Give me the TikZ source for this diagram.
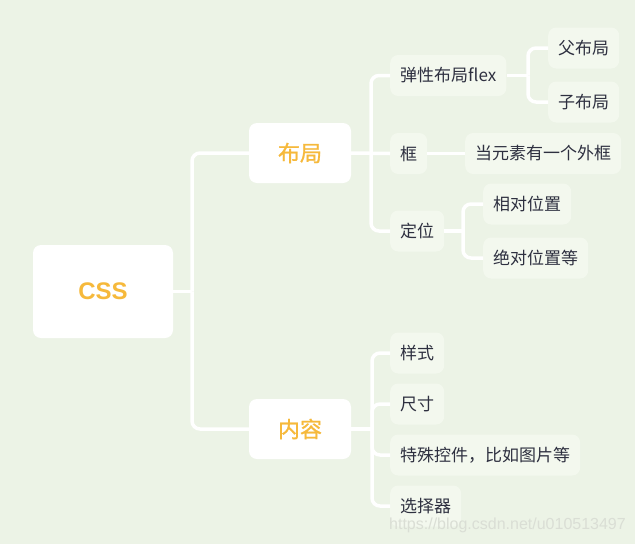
\documentclass[tikz,border=0pt]{standalone}
\usepackage{fontspec}
\setmainfont{Noto Sans CJK SC}
\newfontfamily\medfont[FakeBold=1.2]{Noto Sans CJK SC}
\newfontfamily\cssfont{Liberation Sans}
\newfontfamily\wmfont{Liberation Sans}
\definecolor{bg}{HTML}{ECF3E6}
\definecolor{leaffill}{HTML}{F3F8EE}
\definecolor{orangetxt}{HTML}{F6B93B}
\definecolor{darktxt}{HTML}{2E3040}
\definecolor{wmcol}{HTML}{DADED5}
\begin{document}
\begin{tikzpicture}[x=1pt,y=-1pt,
  mainbox/.style={draw=none,fill=white,rounded corners=8pt,inner sep=0pt,
    text=orangetxt,font=\medfont\fontsize{22}{24}\selectfont},
  leaf/.style={draw=none,fill=leaffill,rounded corners=8pt,inner xsep=10pt,inner ysep=0pt,
    minimum height=41pt,text=darktxt,font=\fontsize{17}{19}\selectfont,anchor=west},
  conn/.style={draw=white,line width=3.5pt,rounded corners=8pt}]
\fill[bg] (0,0) rectangle (635,544);
\useasboundingbox (0,0) rectangle (635,544);
% main nodes
\node[mainbox,minimum width=140pt,minimum height=93pt,font=\cssfont\bfseries\fontsize{24}{26}\selectfont] (css) at (103,291.5) {CSS};
\node[mainbox,minimum width=102pt,minimum height=60pt] (buju) at (300,153) {布局};
\node[mainbox,minimum width=102pt,minimum height=60pt] (neirong) at (300,429) {内容};
% layout children
\node[leaf] (flex) at (390,75.5) {弹性布局flex};
\node[leaf] (kuang) at (390,153.5) {框};
\node[leaf] (dingwei) at (390,231) {定位};
\node[leaf] (fu) at (548,48) {父布局};
\node[leaf] (zi) at (548,102) {子布局};
\node[leaf] (waikuang) at (465,153.5) {当元素有一个外框};
\node[leaf] (xiangdui) at (483,204) {相对位置};
\node[leaf] (juedui) at (483,258) {绝对位置等};
% content children
\node[leaf] (yangshi) at (390,353) {样式};
\node[leaf] (chicun) at (390,404) {尺寸};
\node[leaf] (teshu) at (390,455) {特殊控件，比如图片等};
\node[leaf] (xuanze) at (390,506) {选择器};
% junctions
\coordinate (j0) at (192,291.5);
\coordinate (j1) at (371,153);
\coordinate (j2) at (528,75.5);
\coordinate (j3) at (463,231);
\coordinate (j4) at (372,429);
% connectors
\draw[conn] (css.east) -- (j0);
\draw[conn] (buju.west) -| (j0);
\draw[conn] (neirong.west) -| (j0);
\draw[conn] (buju.east) -- (kuang.west);
\draw[conn] (flex.west) -| (j1);
\draw[conn] (dingwei.west) -| (j1);
\draw[conn] (flex.east) -- (j2);
\draw[conn] (fu.west) -| (j2);
\draw[conn] (zi.west) -| (j2);
\draw[conn] (kuang.east) -- (waikuang.west);
\draw[conn] (dingwei.east) -- (j3);
\draw[conn] (xiangdui.west) -| (j3);
\draw[conn] (juedui.west) -| (j3);
\draw[conn] (neirong.east) -- (j4);
\draw[conn] (yangshi.west) -| (j4);
\draw[conn] (chicun.west) -| (j4);
\draw[conn] (teshu.west) -| (j4);
\draw[conn] (xuanze.west) -| (j4);
% watermark
\node[anchor=east,text=wmcol,font=\wmfont\fontsize{16}{18}\selectfont,inner sep=0pt] (wm) at (626,525) {https://blog.csdn.net/u010513497};
\end{tikzpicture}
\end{document}
